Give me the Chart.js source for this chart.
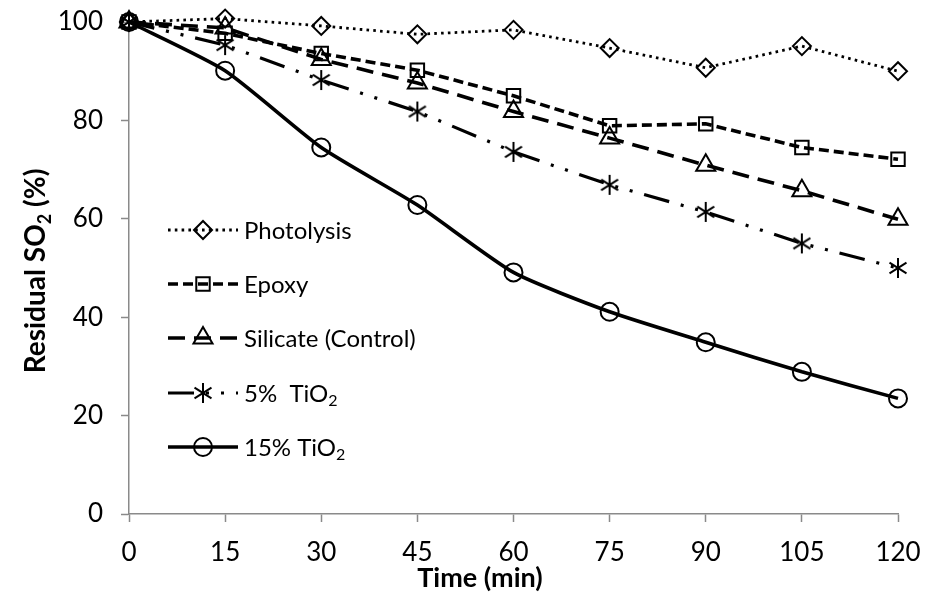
<!DOCTYPE html>
<html>
<head>
<meta charset="utf-8">
<script src="https://cdn.jsdelivr.net/npm/chart.js@4.4.1/dist/chart.umd.min.js"></script>
<style>
  html, body { margin: 0; padding: 0; background: #ffffff; }
  #wrap { width: 928px; height: 600px; position: relative; }
</style>
</head>
<body>
<div id="wrap"><canvas id="chart" width="928" height="600"></canvas></div>
<script>
// Sampling times (min)
const times = [0, 15, 30, 45, 60, 75, 90, 105, 120];

// Residual SO2 (%) for each coating
const photolysis = [100, 100.7, 99.2, 97.5, 98.4, 94.7, 90.7, 95.1, 90.0];
const epoxy      = [100, 97.7, 93.6, 90.2, 85.0, 78.9, 79.3, 74.5, 72.1];
const silicate   = [100, 98.8, 92.4, 87.6, 81.8, 76.4, 70.9, 65.7, 59.9];
const tio2Low    = [100, 95.3, 88.2, 81.8, 73.6, 66.9, 61.4, 55.0, 50.0];
const tio2High   = [100, 90.1, 74.5, 62.8, 49.1, 41.1, 34.9, 28.9, 23.5];

// Legend text: main part and subscript
const seriesNames = [
  ['Photolysis', ''],
  ['Epoxy', ''],
  ['Silicate (Control)', ''],
  ['5%  TiO', '2'],
  ['15% TiO', '2']
];

const yTickValues = [0, 20, 40, 60, 80, 100];
const xTickValues = [0, 15, 30, 45, 60, 75, 90, 105, 120];

const INK = '#000000';
const AXIS = '#8a8a8a';
const FONT = 'Lato, "Open Sans", sans-serif';

// Six-armed asterisk marker
function makeAsterisk(r, lw) {
  const s = Math.ceil(2 * r + lw + 2);
  const c = document.createElement('canvas');
  c.width = s; c.height = s;
  const g = c.getContext('2d');
  g.strokeStyle = INK;
  g.lineWidth = lw;
  g.lineCap = 'butt';
  const cx = s / 2, cy = s / 2;
  [90, 32, 148].forEach(a => {
    const t = a * Math.PI / 180;
    g.beginPath();
    g.moveTo(cx - r * Math.cos(t), cy - r * Math.sin(t));
    g.lineTo(cx + r * Math.cos(t), cy + r * Math.sin(t));
    g.stroke();
  });
  return c;
}
const asterisk = makeAsterisk(10, 2);

const styles = [
  { data: photolysis, dash: [2.6, 4.2], width: 2.8, point: 'rectRot', radius: 9, tension: 0 },
  { data: epoxy,      dash: [10, 5],    width: 3.6, point: 'rect',    radius: 9.5, tension: 0 },
  { data: silicate,   dash: [17, 9],    width: 3.6, point: 'triangle', radius: 11, tension: 0 },
  { data: tio2Low,    dash: [26, 12, 3, 12, 3, 12], width: 3.2, point: asterisk, radius: 10, tension: 0 },
  { data: tio2High,   dash: [],         width: 3.6, point: 'circle',  radius: 9, tension: 0.2 }
];

const datasets = styles.map((s, i) => ({
  label: seriesNames[i][0] + seriesNames[i][1],
  data: times.map((t, k) => ({ x: t, y: s.data[k] })),
  borderColor: INK,
  backgroundColor: 'rgba(0,0,0,0)',
  borderWidth: s.width,
  borderDash: s.dash,
  borderCapStyle: 'butt',
  tension: s.tension,
  pointStyle: s.point,
  pointRadius: s.radius,
  pointHoverRadius: s.radius,
  pointBorderWidth: 2,
  pointBorderColor: INK,
  pointBackgroundColor: 'rgba(0,0,0,0)',
  clip: false
}));

// Marker drawing for the legend swatches
function drawMarker(ctx, style, r, x, y) {
  ctx.save();
  ctx.setLineDash([]);
  ctx.lineWidth = 2;
  ctx.strokeStyle = INK;
  if (style instanceof HTMLCanvasElement) {
    ctx.drawImage(style, x - style.width / 2, y - style.height / 2);
    ctx.restore();
    return;
  }
  ctx.beginPath();
  if (style === 'rectRot') {
    ctx.moveTo(x - r, y); ctx.lineTo(x, y - r); ctx.lineTo(x + r, y); ctx.lineTo(x, y + r); ctx.closePath();
  } else if (style === 'rect') {
    const h = Math.SQRT1_2 * r;
    ctx.rect(x - h, y - h, 2 * h, 2 * h);
  } else if (style === 'triangle') {
    for (let k = 0; k < 3; k++) {
      const a = k * 2 * Math.PI / 3;
      const px = x + Math.sin(a) * r, py = y - Math.cos(a) * r;
      if (k === 0) ctx.moveTo(px, py); else ctx.lineTo(px, py);
    }
    ctx.closePath();
  } else if (style === 'circle') {
    ctx.arc(x, y, r, 0, Math.PI * 2);
  }
  ctx.stroke();
  ctx.restore();
}

// Text with an optional subscript
function drawSubText(ctx, main, sub, x, y, size, weight) {
  ctx.font = weight + ' ' + size + 'px ' + FONT;
  ctx.fillText(main, x, y);
  let w = ctx.measureText(main).width;
  if (sub) {
    ctx.font = weight + ' ' + Math.round(size * 0.65) + 'px ' + FONT;
    ctx.fillText(sub, x + w, y + size * 0.2);
    w += ctx.measureText(sub).width;
  }
  return w;
}
function measureSubText(ctx, main, sub, size, weight) {
  ctx.font = weight + ' ' + size + 'px ' + FONT;
  let w = ctx.measureText(main).width;
  if (sub) {
    ctx.font = weight + ' ' + Math.round(size * 0.65) + 'px ' + FONT;
    w += ctx.measureText(sub).width;
  }
  return w;
}

const decorations = {
  id: 'decorations',
  afterDraw(chart) {
    const ctx = chart.ctx;
    ctx.save();
    ctx.fillStyle = INK;
    ctx.textBaseline = 'alphabetic';
    ctx.textAlign = 'left';

    // Legend inside the plot
    const rows = [230, 284, 338, 393, 447];
    const x0 = 168, x1 = 238, xm = 203, xt = 244;
    styles.forEach((s, i) => {
      const y = rows[i];
      ctx.save();
      ctx.strokeStyle = INK;
      ctx.lineWidth = s.width;
      ctx.lineCap = 'butt';
      ctx.setLineDash(s.dash);
      ctx.beginPath();
      ctx.moveTo(x0, y);
      ctx.lineTo(x1, y);
      ctx.stroke();
      ctx.restore();
      drawMarker(ctx, s.point, s.radius, xm, y);
      ctx.fillStyle = INK;
      drawSubText(ctx, seriesNames[i][0], seriesNames[i][1], xt, y + 8.5, 24, 'normal');
    });

    // X axis title
    ctx.textAlign = 'center';
    ctx.font = 'bold 27px ' + FONT;
    ctx.fillText('Time (min)', 480, 587);

    // Y axis title (rotated)
    ctx.save();
    ctx.translate(45, 271);
    ctx.rotate(-Math.PI / 2);
    ctx.textAlign = 'left';
    const w = measureSubText(ctx, 'Residual SO', '2', 28, 'bold');
    ctx.font = 'bold 28px ' + FONT;
    const tail = ' (%)';
    const total = w + ctx.measureText(tail).width;
    let cx = -total / 2;
    cx += drawSubText(ctx, 'Residual SO', '2', cx, 0, 28, 'bold');
    ctx.font = 'bold 28px ' + FONT;
    ctx.fillText(tail, cx, 0);
    ctx.restore();

    ctx.restore();
  }
};

new Chart(document.getElementById('chart'), {
  type: 'line',
  data: { datasets },
  options: {
    responsive: false,
    animation: false,
    events: [],
    layout: { padding: { top: 22, right: 30, left: 0, bottom: 0 } },
    plugins: {
      legend: { display: false },
      tooltip: { enabled: false },
      title: { display: false }
    },
    scales: {
      x: {
        type: 'linear',
        min: 0,
        max: 120,
        afterBuildTicks(scale) { scale.ticks = xTickValues.map(v => ({ value: v })); },
        afterFit(scale) {
          scale.height = 86;
          scale.paddingLeft = 0; scale.paddingRight = 0;
        },
        border: { color: AXIS, width: 1.5 },
        grid: { drawOnChartArea: false, drawTicks: true, tickLength: 8, tickColor: AXIS, tickWidth: 1.5 },
        ticks: {
          color: INK,
          padding: 15,
          maxRotation: 0,
          autoSkip: false,
          font: { family: FONT, size: 26 }
        }
      },
      y: {
        min: 0,
        max: 100,
        afterBuildTicks(scale) { scale.ticks = yTickValues.map(v => ({ value: v })); },
        afterFit(scale) {
          scale.width = 129;
          scale.paddingTop = 0; scale.paddingBottom = 0;
        },
        border: { color: AXIS, width: 1.5 },
        grid: { drawOnChartArea: false, drawTicks: true, tickLength: 8, tickColor: AXIS, tickWidth: 1.5 },
        ticks: {
          color: INK,
          padding: 18,
          font: { family: FONT, size: 26 }
        }
      }
    }
  },
  plugins: [decorations]
});
</script>
</body>
</html>
